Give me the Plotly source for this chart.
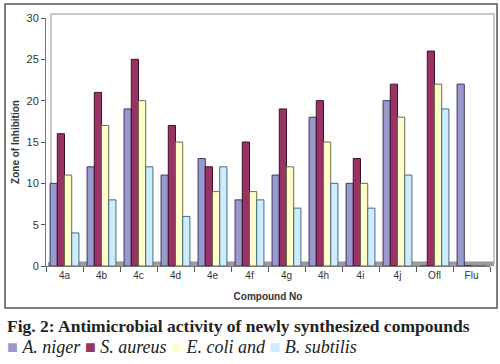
import plotly.graph_objects as go

compounds = ["4a", "4b", "4c", "4d", "4e", "4f", "4g", "4h", "4i", "4j", "Ofl", "Flu"]
a_niger = [10, 12, 19, 11, 13, 8, 11, 18, 10, 20, 0, 22]
s_aureus = [16, 21, 25, 17, 12, 15, 19, 20, 13, 22, 26, 0]
e_coli = [11, 17, 20, 15, 9, 9, 12, 15, 10, 18, 22, 0]
b_subtilis = [4, 8, 12, 6, 12, 8, 7, 10, 7, 11, 19, 0]

series_names = ["A. niger", "S. aureus", "E. coli", "B. subtilis"]
series_vals = [a_niger, s_aureus, e_coli, b_subtilis]
colors = ["#9999cc", "#993366", "#ffffcc", "#ccecff"]
edge = ["#3a3a66", "#3f1028", "#6b6b4a", "#4a6a78"]

fig = go.Figure()
for name, vals, c, e in zip(series_names, series_vals, colors, edge):
    fig.add_trace(go.Bar(x=compounds, y=vals, name=name,
                         marker=dict(color=c, line=dict(color=e, width=1))))

L, R, T, B = 46, 10, 18, 98
W, H = 500, 364
pw, ph = W - L - R, H - T - B

def px(x):
    return (x - L) / pw

def py(y):
    return (H - B - y) / ph

shapes = [
    # outer frame
    dict(type="rect", xref="paper", yref="paper", x0=px(5), x1=px(497), y0=py(308), y1=py(4),
         line=dict(color="#555555", width=1.5), layer="below"),
    # back wall
    dict(type="rect", xref="paper", yref="paper", x0=px(51), x1=px(494), y0=py(262), y1=py(14),
         line=dict(color="#c8c8c8", width=2), layer="below"),
    # floor
    dict(type="rect", xref="paper", yref="paper", x0=px(48), x1=px(494), y0=0, y1=py(262),
         line=dict(width=0), fillcolor="#9a9a9a", layer="below"),
]

legend_text = ("<span style='color:#9999cc'>■</span> <i>A. niger</i> "
               "<span style='color:#993366'>■</span> <i>S. aureus</i> "
               "<span style='color:#ffffcc'>■</span> <i>E. coli and</i> "
               "<span style='color:#ccecff'>■</span> <i>B. subtilis</i>")

annotations = [
    dict(text="<b>Fig. 2: Antimicrobial activity of newly synthesized compounds</b>",
         xref="paper", yref="paper", x=px(5), y=py(326), xanchor="left", yanchor="middle",
         showarrow=False, font=dict(family="Liberation Serif", size=17.5, color="#222222")),
    dict(text=legend_text, xref="paper", yref="paper", x=px(5), y=py(347),
         xanchor="left", yanchor="middle", showarrow=False,
         font=dict(family="Liberation Serif", size=18, color="#222222")),
]

fig.update_layout(
    width=W, height=H,
    margin=dict(l=L, r=R, t=T, b=B),
    paper_bgcolor="white", plot_bgcolor="white",
    barmode="group", bargap=0.22, bargroupgap=0,
    showlegend=False,
    font=dict(family="Liberation Sans", size=10, color="#333333"),
    shapes=shapes, annotations=annotations,
    xaxis=dict(tickson="boundaries", ticks="outside", ticklen=5, tickcolor="#555555",
               showline=True, linecolor="#777777", linewidth=1,
               tickfont=dict(size=10, color="#333333"),
               title=dict(text="<b>Compound No</b>", font=dict(size=10, color="#333333"), standoff=12)),
    yaxis=dict(range=[0, 30], dtick=5, ticks="outside", ticklen=4, tickcolor="#555555",
               showline=True, linecolor="#777777", linewidth=1, showgrid=False, zeroline=False,
               tickfont=dict(size=11, color="#333333"),
               title=dict(text="<b>Zone of Inhibition</b>", font=dict(size=10, color="#333333"), standoff=5)),
)

fig.write_html("out.html", config={"displayModeBar": False},
               post_script="document.body.style.margin='0';")
